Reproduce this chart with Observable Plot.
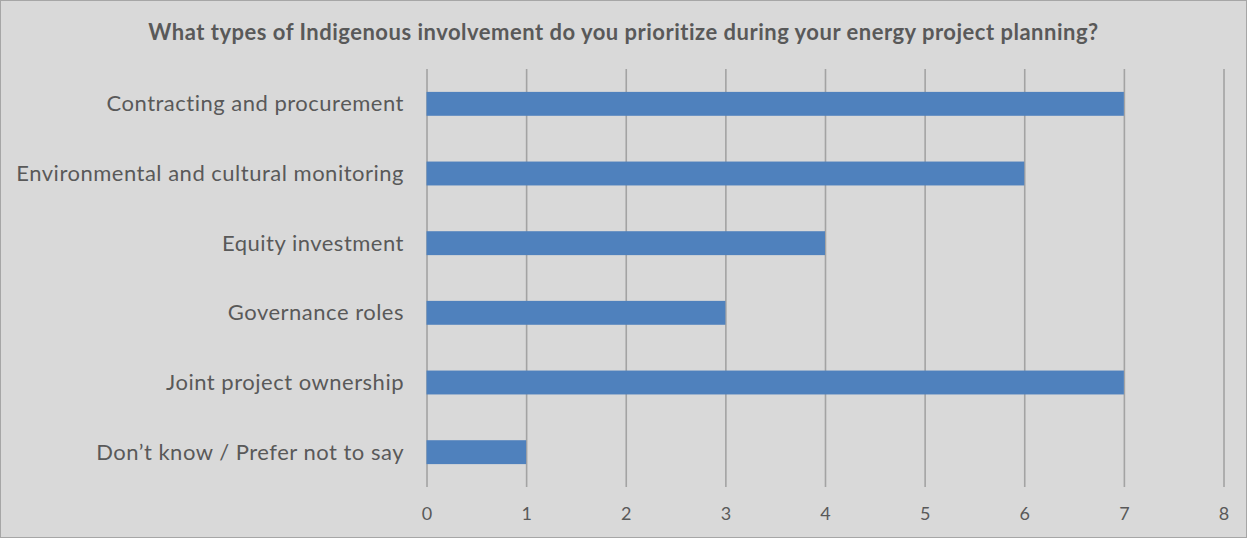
<!DOCTYPE html>
<html>
<head>
<meta charset="utf-8">
<script src="https://cdn.jsdelivr.net/npm/d3@7"></script>
<script src="https://cdn.jsdelivr.net/npm/@observablehq/plot@0.6"></script>
<style>
  html, body { margin: 0; padding: 0; background: #ffffff; }
  #frame {
    width: 1247px; height: 538px; box-sizing: border-box;
    border: 1px solid #a6a6a6; background: #d9d9d9; overflow: hidden;
  }
  #title {
    height: 59px; line-height: 62px; text-align: center; white-space: nowrap;
    font-family: Lato, "Open Sans", sans-serif; font-weight: bold;
    font-size: 22px; letter-spacing: 0.5px; color: #595959;
  }
  svg { display: block; }
  #chart svg g[aria-label="y-axis tick label"] text { letter-spacing: 0.5px; }
</style>
</head>
<body>
<div id="frame">
  <div id="title">What types of Indigenous involvement do you prioritize during your energy project planning?</div>
  <div id="chart"></div>
</div>
<script>
const categories = [
  "Contracting and procurement",
  "Environmental and cultural monitoring",
  "Equity investment",
  "Governance roles",
  "Joint project ownership",
  "Don\u2019t know / Prefer not to say"
];
const values = [7, 6, 4, 3, 7, 1];
const xTicks = [0, 1, 2, 3, 4, 5, 6, 7, 8];

const data = categories.map((c, i) => ({category: c, value: values[i]}));

const chart = Plot.plot({
  width: 1245,
  height: 477,
  marginLeft: 425.5,
  marginRight: 22.5,
  marginTop: 9,
  marginBottom: 50,
  style: {background: "transparent", fontFamily: "Lato, 'Open Sans', sans-serif", color: "#595959", overflow: "visible"},
  x: {domain: [0, 8], label: null},
  y: {domain: categories, paddingInner: 0.657, paddingOuter: 0.3286, round: false, label: null},
  marks: [
    Plot.ruleX(xTicks, {stroke: "#a3a3a3", strokeWidth: 1.6}),
    Plot.barX(data, {x: "value", y: "category", fill: "#4f81bd"}),
    Plot.axisX({ticks: xTicks, tickSize: 0, tickPadding: 20, fontSize: 18, fill: "#595959", label: null}),
    Plot.axisY({tickSize: 0, tickPadding: 23, fontSize: 22, fill: "#595959", label: null})
  ]
});
document.getElementById("chart").appendChild(chart);
</script>
</body>
</html>
